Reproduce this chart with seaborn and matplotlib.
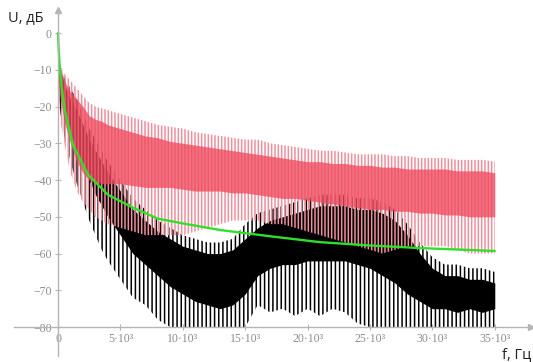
import numpy as np
import pandas as pd
import matplotlib
matplotlib.use("Agg")
import matplotlib.pyplot as plt
import seaborn as sns

# частоты, Гц
freq = [0, 200, 500, 1000, 1500, 2000, 2500, 3000, 3500, 4000,
        5000, 6000, 7000, 8000, 9000, 10000, 11000, 12000, 13000, 14000,
        15000, 16000, 17000, 18000, 19000, 20000, 21000, 22000, 23000, 24000,
        25000, 26000, 27000, 28000, 29000, 30000, 31000, 32000, 33000, 34000, 35000]

# черный спектр (огибающие выбросов и плотной части), дБ
black_peak = [-8, -9, -12, -15, -18, -22, -26, -29, -32, -35,
              -40, -45, -48, -51, -53, -55, -56, -57, -57, -56,
              -52, -49, -48, -47, -46, -45, -44, -44, -44, -45,
              -45, -46, -48, -52, -57, -61, -63, -63, -64, -64, -65]
black_top = [-9, -10, -14, -18, -21, -25, -29, -32, -35, -38,
             -43, -48, -51, -54, -56, -58, -59, -60, -60, -59,
             -56, -53, -51, -50, -49, -48, -47, -47, -47, -48,
             -48, -49, -51, -55, -60, -64, -66, -66, -67, -67, -68]
black_bot = [-12, -16, -21, -27, -32, -36, -40, -44, -47, -50,
             -55, -60, -63, -66, -69, -71, -73, -74, -75, -74,
             -71, -66, -64, -63, -63, -62, -62, -62, -62, -63,
             -64, -66, -68, -71, -73, -75, -75, -76, -75, -76, -75]
black_dip = [-15, -22, -28, -35, -41, -46, -51, -55, -59, -62,
             -67, -72, -74, -78, -80, -80, -80, -80, -80, -80,
             -80, -74, -76, -75, -77, -75, -77, -75, -76, -79,
             -80, -80, -80, -80, -80, -80, -80, -80, -80, -80, -80]

# красный спектр, дБ
red_peak = [-8, -9, -11, -13, -15, -17, -19, -20, -20.5, -21,
            -22, -23, -24, -25, -25.5, -26, -27, -27.5, -28, -28.5,
            -29, -29, -30, -30.5, -31, -31.5, -32, -32, -32.5, -33,
            -33, -33, -33.5, -33.5, -34, -34, -34, -34.5, -34.5, -34.5, -35]
red_top = [-9, -10, -13, -16, -18, -20, -22.5, -23.5, -24, -25,
           -26, -27, -28, -28.5, -29.5, -30, -30.5, -31, -31.5, -32,
           -32.5, -33, -33.5, -34, -34.5, -35, -35, -35.5, -35.5, -36,
           -36, -36.5, -36.5, -37, -37, -37, -37, -37.5, -37.5, -37.5, -38]
red_bot = [-14, -18, -24, -30, -35, -38, -40, -40.5, -41, -41,
           -41, -41.5, -42, -42, -42, -42.5, -43, -43, -43, -43.5,
           -43.5, -44, -44.5, -45, -45, -45.5, -46, -46.5, -47, -47.5,
           -48, -48, -48.5, -48.5, -49, -49, -49.5, -49.5, -50, -50, -50]
red_dip = [-18, -24, -30, -38, -43, -46, -48, -50, -51, -52,
           -53, -54, -55, -55, -55, -55, -54, -53, -52, -51,
           -51, -51, -52, -52, -53, -54, -55, -56, -57, -58,
           -59, -60, -59, -58, -58, -58, -58, -59, -60, -60, -60]

# зеленая сглаженная кривая
green_f = [0, 50, 150, 300, 550, 1200, 2400, 4000, 6000, 8000,
           10000, 13000, 17000, 21000, 25000, 29000, 35000]
green_db = [0, -4, -10, -15, -21, -30.5, -38.5, -44, -47.5, -50.5,
            -51.8, -53.6, -55.3, -56.9, -57.8, -58.5, -59.3]

y_ticks = [0, -10, -20, -30, -40, -50, -60, -70, -80]
x_ticks = [0, 5000, 10000, 15000, 20000, 25000, 30000, 35000]
x_labels = ["0"] + [f"{k // 1000}·10³" for k in x_ticks[1:]]

sns.set_theme(style="white")
plt.rcParams["font.family"] = ["Liberation Serif", "DejaVu Serif"]
plt.rcParams["hatch.linewidth"] = 1.1

fig = plt.figure(figsize=(5.33, 3.62), dpi=100)
ax = fig.add_axes([0, 0, 1, 1])
ax.set_facecolor("white")

# черный
ax.fill_between(freq, black_dip, black_peak, facecolor="none", edgecolor="black",
                hatch="||||", linewidth=0)
ax.fill_between(freq, black_bot, black_top, color="black", linewidth=0)

# красный поверх
ax.fill_between(freq, red_dip, red_peak, facecolor="none", edgecolor="#ef909c",
                hatch="|||||", linewidth=0)
ax.fill_between(freq, red_bot, red_top, color="#ef4a5e", alpha=0.78, linewidth=0)

df_green = pd.DataFrame({"f": green_f, "U": green_db})
sns.lineplot(data=df_green, x="f", y="U", color="#2fe02a", linewidth=1.7, ax=ax)

# оси через начало координат
ax.set_xlim(-4648, 38062)
ax.set_ylim(-89.5, 8.98)
for s in ["top", "right"]:
    ax.spines[s].set_visible(False)
ax.spines["left"].set_position(("data", 0))
ax.spines["bottom"].set_position(("data", -80))
ax.spines["left"].set_bounds(-88, 6)
ax.spines["bottom"].set_bounds(-3500, 37900)
for s in ["left", "bottom"]:
    ax.spines[s].set_color("#b5b5b5")
    ax.spines[s].set_linewidth(1)
ax.plot(0, 6.3, "^", color="#b5b5b5", markersize=4, clip_on=False)
ax.plot(37900, -80, ">", color="#b5b5b5", markersize=4, clip_on=False)

ax.set_yticks(y_ticks)
ax.set_yticklabels([str(v).replace("-", "−") for v in y_ticks])
ax.set_xticks(x_ticks)
ax.set_xticklabels(x_labels)
ax.tick_params(axis="both", direction="inout", length=5, width=0.8, color="#b5b5b5",
               labelcolor="#8c8c8c", labelsize=8.5, pad=2,
               left=True, bottom=True)
ax.set_xlabel("")
ax.set_ylabel("")
ax.grid(False)

ax.text(0.015, 0.94, "U, дБ", transform=ax.transAxes, fontsize=10.5,
        family=["Open Sans", "DejaVu Sans"], color="#222222")
ax.text(0.996, 0.012, "f, Гц", transform=ax.transAxes, fontsize=10.5, ha="right",
        family=["Open Sans", "DejaVu Sans"], color="#222222")

fig.savefig("out.png", dpi=100)
